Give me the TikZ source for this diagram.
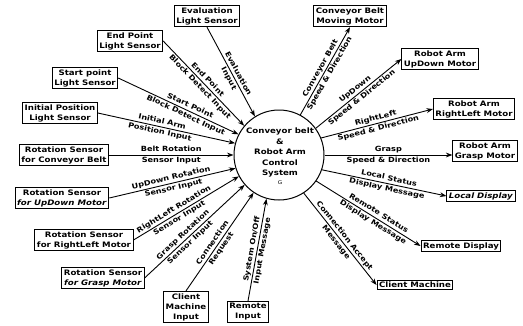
\documentclass[tikz,border=0pt]{standalone}
\usepackage{fontspec}
\setmainfont{DejaVu Sans}[FakeStretch=1.15]
\usetikzlibrary{arrows.meta}

\begin{document}
\begin{tikzpicture}[x=1pt,y=-1pt,
  box/.style={draw, line width=1pt, align=center, inner sep=2pt,
    font=\fontsize{7.5}{10}\selectfont\bfseries},
  hub/.style={draw, circle, line width=1pt, minimum size=90pt, inner sep=0pt},
  hubtext/.style={align=center, font=\fontsize{7.5}{10.5}\selectfont\bfseries},
  flow/.style={line width=0.9pt, -{Stealth[length=6.5pt,width=4.8pt]}},
  lab/.style={font=\fontsize{7.1}{10.6}\selectfont\bfseries, sloped, align=center,
    inner sep=0pt}
]
\useasboundingbox (0,0) rectangle (523,325);

% central process
\node[hub] (ctr) at (279,155) {};
\node[hubtext] (ctrtext) at (280,156) {Conveyor belt\\\&\\Robot Arm\\Control\\System\\[-2pt]{\fontsize{5}{5}\selectfont\mdseries G}};

% input devices
\node[box] (eval)     at (207,16)  {Evaluation\\Light Sensor};
\node[box] (endpt)    at (130,41)  {End Point\\Light Sensor};
\node[box] (startpt)  at (85,78)   {Start point\\Light Sensor};
\node[box] (initpos)  at (60,113)  {Initial Position\\Light Sensor};
\node[box] (rotbelt)  at (64,155)  {Rotation Sensor\\for Conveyor Belt};
\node[box] (rotud)    at (62,198)  {Rotation Sensor\\\textit{for UpDown Motor}};
\node[box] (rotrl)    at (84,240)  {Rotation Sensor\\for RightLeft Motor};
\node[box] (rotgr)    at (103,278) {Rotation Sensor\\\textit{for Grasp Motor}};
\node[box] (clientin) at (186,307) {Client\\Machine\\Input};
\node[box] (remotein) at (248,312) {Remote\\Input};

% output devices
\node[box] (beltmotor)  at (350,16)  {Conveyor Belt\\Moving Motor};
\node[box] (udmotor)    at (440,59)  {Robot Arm\\UpDown Motor};
\node[box] (rlmotor)    at (474,109) {Robot Arm\\RightLeft Motor};
\node[box] (grmotor)    at (485,151) {Robot Arm\\Grasp Motor};
\node[box] (localdisp)  at (481,196) {\textit{Local Display}};
\node[box] (remotedisp) at (461,246) {Remote Display};
\node[box] (clientm)    at (415,285) {Client Machine};

% input flows: the connector runs between the two rows of each label
\draw[flow] (eval.south) -- (ctr.122)
  node[lab, pos=0.55] {Evaluation\\Input};
\draw[flow] (endpt.east) -- (ctr.140)
  node[lab, pos=0.5] {End Point\\Block Detect Input};
\draw[flow] (startpt.east) -- (ctr.153)
  node[lab, pos=0.58] {Start Point\\Block Detect Input};
\draw[flow] (initpos.east) -- (ctr.165)
  node[lab, pos=0.46] {Initial Arm\\Position Input};
\draw[flow] (rotbelt.east) -- (ctr.180)
  node[lab, midway] {Belt Rotation\\Sensor Input};
\draw[flow] (rotud.east) -- (ctr.197)
  node[lab, pos=0.5] {UpDown Rotation\\Sensor Input};
\draw[flow] (rotrl.east) -- (ctr.208)
  node[lab, pos=0.41] {RightLeft Rotation\\Sensor Input};
\draw[flow] (rotgr.east) -- (ctr.221)
  node[lab, pos=0.42] {Grasp Rotation\\Sensor Input};
\draw[flow] (clientin.north) -- (ctr.236)
  node[lab, pos=0.46] {Connection\\Request};
\draw[flow] (remotein.north) -- (ctr.254)
  node[lab, midway] {System On/Off\\Input Message};

% output flows
\draw[flow] (ctr.62) -- (beltmotor.south)
  node[lab, midway] {Conveyor Belt\\Speed \& Direction};
\draw[flow] (ctr.36) -- (udmotor.west)
  node[lab, midway] {UpDown\\Speed \& Direction};
\draw[flow] (ctr.22) -- (rlmotor.west)
  node[lab, midway] {RightLeft\\Speed \& Direction};
\draw[flow] (ctr.0) -- (ctr.0 -| grmotor.west)
  node[lab, midway] {Grasp\\Speed \& Direction};
\draw[flow] (ctr.-19) -- (localdisp.west)
  node[lab, pos=0.53] {Local Status\\Display Message};
\draw[flow] (ctr.-35) -- (remotedisp.west)
  node[lab, pos=0.57] {Remote Status\\Display Message};
\draw[flow] (ctr.-57) -- (clientm.west)
  node[lab, midway] {Connection Accept\\Message};
\end{tikzpicture}
\end{document}
